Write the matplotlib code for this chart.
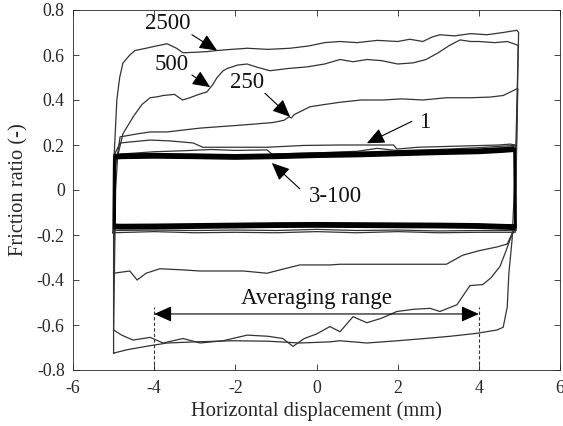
import matplotlib
matplotlib.use("Agg")
import matplotlib.pyplot as plt

plt.rcParams['font.family'] = ['Liberation Serif', 'DejaVu Serif']

# cycle 2500
c2500_top_x = [-5.0, -5.0, -4.92, -4.85, -4.77, -4.6, -4.47, -4.2, -3.95, -3.68, -3.45, -3.29, -3.0, -2.7,
               -2.45, -2.1, -1.7, -1.2, -0.65, -0.2, 0.2, 0.58, 1.0, 1.5, 2.0, 2.3, 2.62, 2.85, 3.04,
               3.4, 3.8, 4.2, 4.6, 4.94, 4.98]
c2500_top_y = [-0.725, 0.1, 0.4, 0.5, 0.564, 0.60, 0.62, 0.63, 0.64, 0.65, 0.63, 0.61, 0.612, 0.615,
               0.62, 0.625, 0.63, 0.625, 0.63, 0.64, 0.655, 0.66, 0.655, 0.665, 0.66, 0.67, 0.66, 0.68,
               0.69, 0.685, 0.695, 0.69, 0.70, 0.71, 0.70]
c2500_bot_x = [4.98, 4.9, 4.82, 4.74, 4.7, 4.6, 4.45, 3.95, 3.3, 2.8, 2.0, 1.24, 0.58, 0.33, -0.41,
               -1.2, -2.05, -3.0, -3.68, -4.2, -4.67, -5.0]
c2500_bot_y = [0.70, 0.1, -0.22, -0.37, -0.52, -0.61, -0.622, -0.637, -0.65, -0.658, -0.67, -0.68,
               -0.67, -0.675, -0.68, -0.672, -0.67, -0.675, -0.68, -0.695, -0.71, -0.725]

# cycle 500
c500_top_x = [-5.0, -4.95, -4.9, -4.77, -4.5, -4.3, -4.1, -3.9, -3.78, -3.5, -3.3, -3.12, -2.9, -2.7,
              -2.55, -2.45, -2.3, -2.2, -1.95, -1.71, -1.45, -1.15, -0.7, -0.24, 0.2, 0.58, 0.9, 1.24,
              1.6, 2.0, 2.38, 2.7, 3.0, 3.29, 3.54, 3.8, 4.0, 4.4, 4.7, 4.94, 4.97]
c500_top_y = [-0.622, 0.0, 0.15, 0.25, 0.33, 0.38, 0.41, 0.415, 0.42, 0.425, 0.40, 0.41, 0.425, 0.436,
              0.47, 0.50, 0.53, 0.54, 0.555, 0.56, 0.545, 0.53, 0.54, 0.547, 0.56, 0.58, 0.57, 0.58,
              0.575, 0.56, 0.565, 0.58, 0.61, 0.644, 0.667, 0.66, 0.66, 0.655, 0.66, 0.645, 0.64]
c500_bot_x = [4.97, 4.9, 4.77, 4.65, 4.52, 4.3, 4.1, 3.78, 3.46, 3.04, 2.8, 2.4, 1.98, 1.6, 1.24, 0.9,
              0.58, 0.33, 0.0, -0.3, -0.58, -0.83, -1.2, -1.71, -2.3, -2.87, -3.29, -3.78, -4.1, -4.52,
              -4.8, -5.0]
c500_bot_y = [0.64, -0.17, -0.22, -0.28, -0.34, -0.39, -0.42, -0.425, -0.51, -0.54, -0.526, -0.53,
              -0.54, -0.57, -0.59, -0.563, -0.63, -0.607, -0.64, -0.66, -0.695, -0.66, -0.65, -0.645,
              -0.67, -0.68, -0.66, -0.68, -0.655, -0.667, -0.645, -0.622]

# cycle 250
c250_top_x = [-5.0, -4.95, -4.84, -4.4, -4.1, -3.68, -3.12, -2.87, -2.5, -1.81, -1.4, -1.07, -0.8,
              -0.68, -0.62, -0.55, -0.16, 0.2, 0.58, 1.1, 1.64, 2.1, 2.62, 3.2, 3.8, 4.28, 4.6, 4.94, 4.96]
c250_top_y = [-0.37, 0.1, 0.236, 0.25, 0.258, 0.258, 0.27, 0.275, 0.28, 0.289, 0.295, 0.30, 0.31,
              0.325, 0.32, 0.335, 0.37, 0.38, 0.39, 0.40, 0.40, 0.405, 0.40, 0.41, 0.41, 0.413, 0.42,
              0.45, 0.45]
c250_bot_x = [4.96, 4.88, 4.7, 4.45, 4.0, 3.6, 3.2, 2.38, 1.3, 0.58, 0.33, -0.41, -0.9, -1.22, -1.8,
              -2.87, -3.3, -3.86, -4.2, -4.42, -4.6, -5.0]
c250_bot_y = [0.45, -0.17, -0.24, -0.253, -0.27, -0.29, -0.33, -0.33, -0.33, -0.33, -0.333, -0.333,
              -0.355, -0.37, -0.36, -0.36, -0.355, -0.35, -0.37, -0.40, -0.36, -0.37]

# cycle 1
c1_top_x = [-5.02, -5.0, -4.84, -4.5, -4.1, -3.6, -3.04, -2.8, -2.0, -1.22, -0.33, 0.58, 1.2, 1.9,
            1.98, 2.5, 3.5, 4.5, 4.77, 4.9]
c1_top_y = [-0.19, 0.15, 0.209, 0.215, 0.222, 0.218, 0.209, 0.19, 0.19, 0.19, 0.198, 0.20, 0.20,
            0.20, 0.182, 0.19, 0.195, 0.20, 0.204, 0.20]
c1_bot_x = [4.9, 4.9, 4.0, 3.0, 2.0, 1.0, 0.0, -1.0, -2.0, -3.0, -4.0, -5.02]
c1_bot_y = [0.20, -0.188, -0.188, -0.19, -0.185, -0.19, -0.185, -0.19, -0.188, -0.19, -0.185, -0.19]

# cycle 2
c2_top_x = [-5.0, -4.98, -4.8, -4.0, -3.2, -2.6, -2.0, -1.22, -1.1, 0.0, 1.0, 1.5, 2.0, 3.0, 4.0,
            4.6, 4.9]
c2_top_y = [-0.18, 0.15, 0.16, 0.17, 0.175, 0.18, 0.176, 0.178, 0.16, 0.165, 0.172, 0.185, 0.175,
            0.18, 0.188, 0.195, 0.198]
c2_bot_x = [4.9, 4.92, 4.0, 3.0, 2.0, 1.0, 0.0, -1.0, -2.0, -3.0, -4.0, -5.0]
c2_bot_y = [0.198, -0.18, -0.18, -0.182, -0.178, -0.18, -0.175, -0.18, -0.178, -0.18, -0.178, -0.18]

# cycles 3-100 (dense band)
band_top_x = [-5.0, -4.8, -4.0, -3.0, -2.0, -1.0, 0.0, 1.0, 2.0, 3.0, 4.0, 4.6, 4.88]
band_top_y = [0.148, 0.150, 0.152, 0.150, 0.147, 0.150, 0.155, 0.158, 0.163, 0.168, 0.172, 0.178, 0.182]
band_bot_x = [4.9, 4.5, 4.0, 3.0, 2.0, 1.0, 0.0, -1.0, -2.0, -3.0, -4.0, -4.8, -5.0]
band_bot_y = [-0.165, -0.163, -0.16, -0.158, -0.157, -0.156, -0.155, -0.156, -0.158, -0.16,
              -0.162, -0.163, -0.162]

labels = ['2500', '500', '250', '1', '3-100']
label_xy = [(-3.66, 0.742), (-3.56, 0.56), (-1.71, 0.48), (2.67, 0.30), (0.46, -0.03)]
arrow_tail = [(-3.07, 0.69), (-3.07, 0.511), (-1.27, 0.43), (2.35, 0.305), (-0.41, 0.005)]
arrow_tip = [(-2.45, 0.62), (-2.62, 0.457), (-0.65, 0.325), (1.24, 0.208), (-1.1, 0.12)]

avg_range = [-4, 4]

fig = plt.figure(figsize=(5.63, 4.26), dpi=100)
ax = fig.add_axes([73 / 563, 56 / 426, 487 / 563, 360 / 426])

line_c = '#333333'
loops = [(c2500_top_x, c2500_top_y, c2500_bot_x, c2500_bot_y),
         (c500_top_x, c500_top_y, c500_bot_x, c500_bot_y),
         (c250_top_x, c250_top_y, c250_bot_x, c250_bot_y),
         (c1_top_x, c1_top_y, c1_bot_x, c1_bot_y),
         (c2_top_x, c2_top_y, c2_bot_x, c2_bot_y)]
for tx, ty, bx, by in loops:
    ax.plot(tx + bx, ty + by, color=line_c, lw=0.9)

# band: heavy horizontal branches, lighter reversal sides
ax.plot(band_top_x, band_top_y, color='black', lw=4.2, solid_capstyle='butt')
ax.plot(band_bot_x, band_bot_y, color='black', lw=4.2, solid_capstyle='butt')
ax.plot([band_top_x[-1], band_bot_x[0]], [band_top_y[-1], band_bot_y[0]], color='black', lw=2.0)
ax.plot([band_bot_x[-1], band_top_x[0]], [band_bot_y[-1], band_top_y[0]], color='black', lw=2.0)

arrow_style = '-|>,head_length=0.9,head_width=0.4'
for lab, (lx, ly), tail, tip in zip(labels, label_xy, arrow_tail, arrow_tip):
    ax.text(lx, ly, lab, fontsize=16.5, ha='center', va='center', color='#111111')
    ax.annotate('', xy=tip, xytext=tail,
                arrowprops=dict(arrowstyle=arrow_style, mutation_scale=12, color='black', lw=0.8,
                                shrinkA=0, shrinkB=0))

# averaging range
for xv in avg_range:
    ax.plot([xv, xv], [-0.8, -0.52], color=line_c, lw=0.8, ls=(0, (3, 2)))
ax.annotate('', xy=(avg_range[1], -0.551), xytext=(avg_range[0], -0.551),
            arrowprops=dict(arrowstyle='<|-|>,head_length=0.9,head_width=0.4',
                            mutation_scale=12, color='black', lw=0.8,
                            shrinkA=0, shrinkB=0))
ax.text(0.0, -0.484, 'Averaging range', fontsize=16.5, ha='center', va='center', color='#111111')

ax.set_xlim(-6, 6)
ax.set_ylim(-0.8, 0.8)
ax.set_xticks([-6, -4, -2, 0, 2, 4, 6])
ax.set_xticklabels(['-6', '-4', '-2', '0', '2', '4', '6'])
ax.set_yticks([-0.8, -0.6, -0.4, -0.2, 0, 0.2, 0.4, 0.6, 0.8])
ax.set_yticklabels(['-0.8', '-0.6', '-0.4', '-0.2', '0', '0.2', '0.4', '0.6', '0.8'])
ax.tick_params(direction='in', top=True, right=True, length=4, width=0.6,
               labelsize=12.8, colors='#262626')
ax.tick_params(axis='x', pad=7)
ax.tick_params(axis='y', pad=6)
for lbl in ax.get_xticklabels() + ax.get_yticklabels():
    lbl.set_fontfamily(['Liberation Serif', 'DejaVu Serif'])
for sp in ax.spines.values():
    sp.set_linewidth(0.6)
    sp.set_color('#262626')

ax.set_xlabel('Horizontal displacement (mm)', fontsize=14.8, color='#262626', labelpad=3)
ax.set_ylabel('Friction ratio (-)', fontsize=14.8, color='#262626', labelpad=6)

fig.savefig('out.png', dpi=100)
